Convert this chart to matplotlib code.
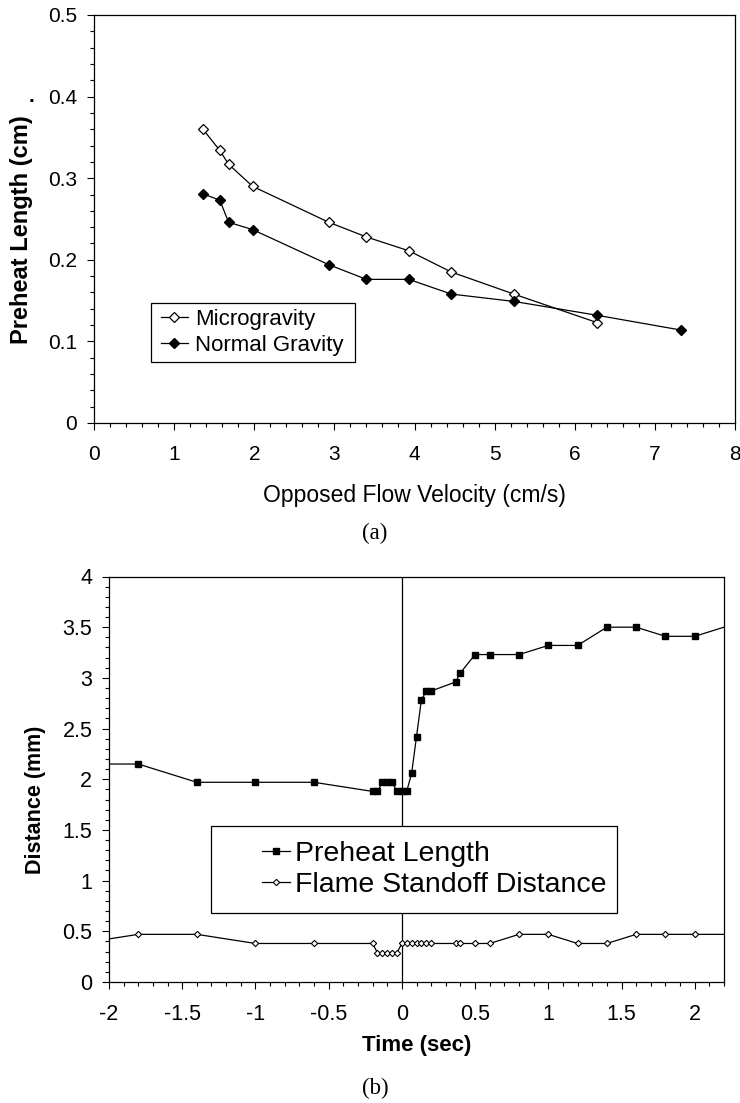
import matplotlib
matplotlib.use("Agg")
import matplotlib.pyplot as plt
from matplotlib.ticker import MultipleLocator
from matplotlib.patches import Rectangle

plt.rcParams['font.family'] = ['Liberation Sans', 'DejaVu Sans']

# (a) preheat length vs opposed flow velocity
vel_micro = [1.36, 1.57, 1.68, 1.98, 2.93, 3.40, 3.93, 4.46, 5.24, 6.28]
len_micro = [0.360, 0.334, 0.317, 0.290, 0.246, 0.228, 0.211, 0.185, 0.158, 0.123]
vel_normal = [1.36, 1.57, 1.68, 1.98, 2.93, 3.40, 3.93, 4.46, 5.24, 6.28, 7.32]
len_normal = [0.281, 0.273, 0.246, 0.237, 0.194, 0.176, 0.176, 0.158, 0.149, 0.132, 0.114]

# (b) distances vs time
t_preheat = [-2.2, -1.8, -1.4, -1.0, -0.6, -0.2, -0.167, -0.133, -0.1, -0.067, -0.033, 0.0,
             0.033, 0.067, 0.1, 0.133, 0.167, 0.2, 0.367, 0.4, 0.5, 0.6, 0.8, 1.0, 1.2,
             1.4, 1.6, 1.8, 2.0, 2.4]
preheat = [2.15, 2.15, 1.97, 1.97, 1.97, 1.88, 1.88, 1.97, 1.97, 1.97, 1.88, 1.88,
           1.88, 2.06, 2.42, 2.78, 2.87, 2.87, 2.96, 3.05, 3.23, 3.23, 3.23, 3.32, 3.32,
           3.50, 3.50, 3.41, 3.41, 3.59]
t_flame = [-2.2, -1.8, -1.4, -1.0, -0.6, -0.2, -0.167, -0.133, -0.1, -0.067, -0.033, 0.0,
           0.033, 0.067, 0.1, 0.133, 0.167, 0.2, 0.367, 0.4, 0.5, 0.6, 0.8, 1.0, 1.2,
           1.4, 1.6, 1.8, 2.0, 2.4]
standoff = [0.38, 0.47, 0.47, 0.38, 0.38, 0.38, 0.29, 0.29, 0.29, 0.29, 0.29, 0.38,
            0.38, 0.38, 0.38, 0.38, 0.38, 0.38, 0.38, 0.38, 0.38, 0.38, 0.47, 0.47, 0.38,
            0.38, 0.47, 0.47, 0.47, 0.47]

W, H = 740, 1103
fig = plt.figure(figsize=(W / 100, H / 100), dpi=100)

def style_ticks(ax, size, pad_x, pad_y):
    ax.tick_params(which='major', direction='out', length=5, width=0.8,
                   labelsize=size, colors='black')
    ax.tick_params(which='minor', direction='out', length=3, width=0.8)
    ax.tick_params(axis='x', which='major', pad=pad_x)
    ax.tick_params(axis='y', which='major', pad=pad_y)
    for sp in ax.spines.values():
        sp.set_linewidth(0.9)
        sp.set_color('black')

# ---- panel (a)
ax1 = fig.add_axes([94 / W, 1 - 423 / H, 641 / W, 408 / H])
ax1.plot(vel_micro, len_micro, color='black', lw=0.9, marker='D', ms=5.5,
         mfc='white', mec='black', mew=0.9, label='Microgravity')
ax1.plot(vel_normal, len_normal, color='black', lw=0.9, marker='D', ms=5.5,
         mfc='black', mec='black', label='Normal Gravity')
ax1.set_xlim(0, 8)
ax1.set_ylim(0, 0.5)
ax1.xaxis.set_major_locator(MultipleLocator(1))
ax1.xaxis.set_minor_locator(MultipleLocator(0.2))
ax1.yaxis.set_major_locator(MultipleLocator(0.1))
ax1.yaxis.set_minor_locator(MultipleLocator(0.02))
ax1.set_yticks([0, 0.1, 0.2, 0.3, 0.4, 0.5], ['0', '0.1', '0.2', '0.3', '0.4', '0.5'])
style_ticks(ax1, 15, 11, 7)
ax1.set_xlabel('Opposed Flow Velocity (cm/s)', fontsize=16.5)
ax1.xaxis.set_label_coords(0.5, -(496 - 423) / 408)
ax1.xaxis.label.set_va('center')
ax1.set_ylabel('Preheat Length (cm)', fontsize=17, fontweight='bold')
ax1.yaxis.set_label_coords((22 - 94) / 641, 0.473)
ax1.yaxis.label.set_va('center')
ax1.text((31 - 94) / 641, 0.8, '.', transform=ax1.transAxes, fontsize=15,
         fontweight='bold', ha='center', va='center')

# legend box drawn by hand (Excel style)
ax1.add_patch(Rectangle((0.71, 0.075), 2.55, 0.072, facecolor='white', edgecolor='black',
                        lw=0.9, zorder=4))
ax1.legend(loc='center left', bbox_to_anchor=(0.83, 0.111), bbox_transform=ax1.transData,
           fontsize=16, frameon=False, borderpad=0, borderaxespad=0,
           handlelength=1.25, handletextpad=0.3, labelspacing=0.2)
fig.text(375 / W, 1 - 533 / H, '(a)', family='Liberation Serif', fontsize=16.5,
         ha='center', va='center')

# ---- panel (b)
ax2 = fig.add_axes([109 / W, 1 - 982 / H, 615 / W, 405.5 / H])
ax2.axvline(0, color='black', lw=0.9)
ax2.plot(t_preheat, preheat, color='black', lw=0.9, marker='s', ms=4.8,
         mfc='black', mec='black', label='Preheat Length')
ax2.plot(t_flame, standoff, color='black', lw=0.9, marker='D', ms=3.2,
         mfc='white', mec='black', mew=0.8, label='Flame Standoff Distance')
ax2.set_xlim(-2, 2.2)
ax2.set_ylim(0, 4)
ax2.xaxis.set_major_locator(MultipleLocator(0.5))
ax2.xaxis.set_minor_locator(MultipleLocator(0.1))
ax2.yaxis.set_major_locator(MultipleLocator(0.5))
ax2.yaxis.set_minor_locator(MultipleLocator(0.1))
ax2.set_xticks([-2, -1.5, -1, -0.5, 0, 0.5, 1, 1.5, 2],
               ['-2', '-1.5', '-1', '-0.5', '0', '0.5', '1', '1.5', '2'])
ax2.set_yticks([0, 0.5, 1, 1.5, 2, 2.5, 3, 3.5, 4],
               ['0', '0.5', '1', '1.5', '2', '2.5', '3', '3.5', '4'])
style_ticks(ax2, 15.5, 10.5, 7)
ax2.set_xlabel('Time (sec)', fontsize=16, fontweight='bold')
ax2.xaxis.set_label_coords(0.5, -(1046 - 982) / 405.5)
ax2.xaxis.label.set_va('center')
ax2.set_ylabel('Distance (mm)', fontsize=15.5, fontweight='bold')
ax2.yaxis.set_label_coords((36 - 109) / 615, 0.45)
ax2.yaxis.label.set_va('center')

ax2.add_patch(Rectangle((-1.30, 0.68), 2.77, 0.86, facecolor='white', edgecolor='black',
                        lw=0.9, zorder=4))
ax2.legend(loc='center left', bbox_to_anchor=(-0.956, 1.11), bbox_transform=ax2.transData,
           fontsize=20.5, frameon=False, borderpad=0, borderaxespad=0,
           handlelength=1.0, handletextpad=0.15, labelspacing=0.2)
fig.text(375 / W, 1 - 1088 / H, '(b)', family='Liberation Serif', fontsize=16.5,
         ha='center', va='center')

fig.savefig('out.png', dpi=100)
